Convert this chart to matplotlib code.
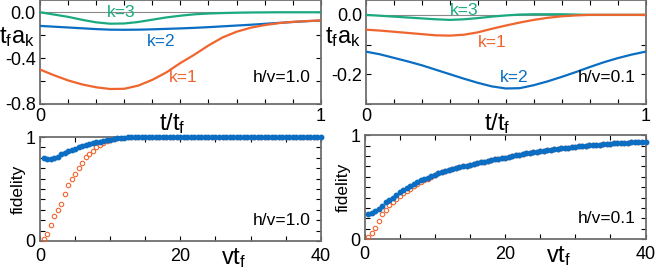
import numpy as np
import matplotlib
matplotlib.use("Agg")
import matplotlib.pyplot as plt
from matplotlib.ticker import MultipleLocator

plt.rcParams['font.family'] = ['Liberation Sans', 'DejaVu Sans']
plt.rcParams['mathtext.fontset'] = 'custom'
plt.rcParams['mathtext.rm'] = 'Liberation Sans'
plt.rcParams['mathtext.it'] = 'Liberation Sans'

# ---- data: t_f a_k vs t/t_f (sampled every 0.05) ----
t_frac = np.round(np.arange(0, 1.0001, 0.05), 2)

a1_h10 = [-0.50, -0.55, -0.595, -0.63, -0.655, -0.67, -0.668, -0.64, -0.59, -0.525, -0.443,
          -0.37, -0.29, -0.22, -0.17, -0.135, -0.112, -0.095, -0.084, -0.077, -0.072]
a2_h10 = [-0.119, -0.126, -0.133, -0.14, -0.147, -0.152, -0.153, -0.152, -0.149, -0.145, -0.141,
          -0.136, -0.13, -0.123, -0.116, -0.109, -0.101, -0.093, -0.085, -0.078, -0.072]
a3_h10 = [0.0, -0.02, -0.04, -0.066, -0.088, -0.10, -0.098, -0.085, -0.065, -0.045, -0.03,
          -0.018, -0.011, -0.007, -0.004, -0.002, -0.001, 0.0, 0.0, 0.0, 0.0]

a1_h01 = [-0.05, -0.053, -0.057, -0.061, -0.065, -0.069, -0.07, -0.067, -0.059, -0.047, -0.036,
          -0.026, -0.017, -0.01, -0.005, -0.002, 0.0, 0.0, 0.0, 0.0, 0.0]
a2_h01 = [-0.124, -0.133, -0.145, -0.157, -0.17, -0.185, -0.2, -0.215, -0.229, -0.241, -0.248,
          -0.247, -0.237, -0.224, -0.209, -0.193, -0.176, -0.16, -0.146, -0.134, -0.124]
a3_h01 = [0.0, -0.003, -0.006, -0.009, -0.012, -0.015, -0.017, -0.015, -0.011, -0.006, -0.002,
          0.001, 0.002, 0.002, 0.002, 0.001, 0.0, 0.0, 0.0, 0.0, 0.0]

# ---- data: fidelity vs v t_f (sampled every 0.5) ----
vtf = np.round(np.arange(0.5, 40.001, 0.5), 1)

fid_blue_h10 = [0.80, 0.79, 0.785, 0.795, 0.81, 0.835, 0.85, 0.865, 0.878, 0.89,
                0.90, 0.91, 0.92, 0.93, 0.94, 0.948, 0.956, 0.963, 0.97, 0.976,
                0.983, 0.988, 0.992, 0.995, 0.997, 0.999] + [1.0] * 54
fid_orange_h10 = [0.02, 0.07, 0.155, 0.24, 0.30, 0.36, 0.45, 0.535, 0.60, 0.64,
                  0.70, 0.755, 0.81, 0.835, 0.865, 0.90, 0.92, 0.945, 0.96, 0.975,
                  0.985, 0.99, 0.995, 0.998] + [1.0] * 56

fid_blue_h01 = [0.245, 0.255, 0.275, 0.29, 0.32, 0.355, 0.375, 0.40, 0.425, 0.45,
                0.47, 0.49, 0.51, 0.53, 0.55, 0.565, 0.58, 0.59, 0.605, 0.62,
                0.632, 0.643, 0.654, 0.664, 0.674, 0.683, 0.692, 0.70, 0.708, 0.716,
                0.724, 0.731, 0.738, 0.745, 0.752, 0.759, 0.766, 0.772, 0.779, 0.785,
                0.792, 0.80, 0.807, 0.813, 0.819, 0.825, 0.83, 0.836, 0.841, 0.846,
                0.851, 0.856, 0.86, 0.865, 0.869, 0.873, 0.877, 0.881, 0.885, 0.888,
                0.892, 0.895, 0.898, 0.901, 0.904, 0.907, 0.91, 0.912, 0.915, 0.917,
                0.92, 0.922, 0.924, 0.926, 0.928, 0.93, 0.932, 0.934, 0.936, 0.938]
fid_orange_h01 = [0.02, 0.06, 0.11, 0.17, 0.24, 0.28, 0.33, 0.36, 0.39, 0.41,
                  0.44, 0.46, 0.48, 0.51, 0.53, 0.55, 0.568, 0.582, 0.598, 0.614] + fid_blue_h01[20:]

C_BLUE = '#0B6EC2'
C_ORANGE = '#F0652E'
C_GREEN = '#1BAA80'
SPINE = '#6E6E6E'

fig = plt.figure(figsize=(6.56, 2.72), dpi=100)
ax_tl = fig.add_axes([0.061, 0.618, 0.428, 0.382])
ax_tr = fig.add_axes([0.558, 0.618, 0.426, 0.382])
ax_bl = fig.add_axes([0.061, 0.114, 0.428, 0.382])
ax_br = fig.add_axes([0.556, 0.121, 0.428, 0.382])


def style(ax):
    for s in ax.spines.values():
        s.set_color(SPINE)
        s.set_linewidth(1.3)
    ax.tick_params(which='both', direction='in', top=True, right=True,
                   length=3.5, width=0.8, color='black', labelsize=13, pad=3)


# top panels
for ax, (a1, a2, a3), ylim, hv in [
        (ax_tl, (a1_h10, a2_h10, a3_h10), (-0.8, 0.107), 'h/v=1.0'),
        (ax_tr, (a1_h01, a2_h01, a3_h01), (-0.3, 0.05), 'h/v=0.1')]:
    style(ax)
    ax.axhline(0, color='#8a8a8a', lw=0.8, zorder=1)
    ax.plot(t_frac, a3, color=C_GREEN, lw=1.6, zorder=3)
    ax.plot(t_frac, a2, color=C_BLUE, lw=1.6, zorder=3)
    ax.plot(t_frac, a1, color=C_ORANGE, lw=1.6, zorder=3)
    ax.set_xlim(0, 1)
    ax.set_ylim(*ylim)
    ax.set_xticks([0, 1])
    ax.set_xticklabels(['0', '1'])
    ax.xaxis.set_minor_locator(MultipleLocator(0.1))
    ax.text(0.965, 0.25, hv, transform=ax.transAxes, ha='right', va='center', fontsize=12.5)
    ax.text(-0.083, 0.645, r'$\mathrm{t_{f}a_{k}}$', transform=ax.transAxes, ha='center',
            va='center', fontsize=17)
    ax.text(0.47, -0.19, r'$\mathrm{t/t_{f}}$', transform=ax.transAxes, ha='center',
            va='center', fontsize=17)

ax_tl.set_yticks([0.0, -0.4, -0.8])
ax_tl.set_yticklabels(['0.0', '-0.4', '-0.8'])
ax_tl.yaxis.set_minor_locator(MultipleLocator(0.2))
ax_tr.set_yticks([0.0, -0.2])
ax_tr.set_yticklabels(['0.0', '-0.2'])
ax_tr.yaxis.set_minor_locator(MultipleLocator(0.1))

ax_tl.text(0.29, 0.0, 'k=3', color=C_GREEN, fontsize=12.5, ha='center', va='center')
ax_tl.text(0.43, -0.255, 'k=2', color=C_BLUE, fontsize=12.5, ha='center', va='center')
ax_tl.text(0.51, -0.57, 'k=1', color=C_ORANGE, fontsize=12.5, ha='center', va='center')
ax_tr.text(0.35, 0.016, 'k=3', color=C_GREEN, fontsize=12.5, ha='center', va='center')
ax_tr.text(0.45, -0.092, 'k=1', color=C_ORANGE, fontsize=12.5, ha='center', va='center')
ax_tr.text(0.53, -0.211, 'k=2', color=C_BLUE, fontsize=12.5, ha='center', va='center')

# bottom panels
for ax, fb, fo, hv in [(ax_bl, fid_blue_h10, fid_orange_h10, 'h/v=1.0'),
                       (ax_br, fid_blue_h01, fid_orange_h01, 'h/v=0.1')]:
    style(ax)
    ax.plot(vtf, fo, 'o', ms=3.2, mfc='none', mec=C_ORANGE, mew=0.8, zorder=3)
    ax.plot(vtf, fb, 'o', ms=3.2, color=C_BLUE, mec=C_BLUE, zorder=4, clip_on=False)
    ax.set_xlim(0, 40)
    ax.set_ylim(0, 1)
    ax.set_xticks([0, 20, 40])
    ax.xaxis.set_minor_locator(MultipleLocator(5))
    ax.set_yticks([0, 1])
    ax.yaxis.set_minor_locator(MultipleLocator(0.1))
    ax.tick_params(axis='x', pad=5)
    ax.set_ylabel('fidelity', fontsize=12.5, labelpad=0)
    ax.text(0.965, 0.2, hv, transform=ax.transAxes, ha='right', va='center', fontsize=12.5)
    ax.text(0.69, -0.16, r'$\mathrm{vt_{f}}$', transform=ax.transAxes, ha='center',
            va='center', fontsize=17)

fig.savefig('out.png', dpi=100)
